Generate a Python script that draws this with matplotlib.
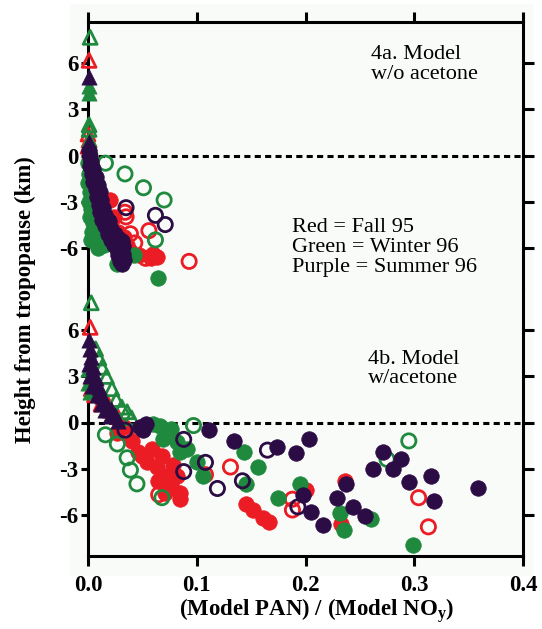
import matplotlib
matplotlib.use("Agg")
import matplotlib.pyplot as plt
from matplotlib.patches import Rectangle

# ---- data (x = model PAN / model NOy, y = height from tropopause, km) ----
# panel 4a: model without acetone
a_red_fill = [(0.033, -5.3), (0.036, -5.8), (0.039, -6.2), (0.060, -6.4), (0.063, -6.6),
              (0.058, -6.7), (0.047, -6.5), (0.020, -2.9), (0.024, -4.0), (0.028, -5.0)]
a_red_open = [(0.035, -4.0), (0.039, -5.1), (0.056, -4.9), (0.043, -5.7), (0.053, -6.7),
              (0.093, -6.9), (0.034, -3.7)]
a_red_tri = [(0.001, 6.2), (0.000, 1.4), (0.001, 1.0), (0.000, 0.6)]
a_green_fill = [(0.000, -0.5), (0.001, -1.2), (0.000, -1.8), (0.002, -2.4), (0.001, -3.0),
                (0.003, -3.5), (0.002, -4.0), (0.005, -4.4), (0.004, -5.0), (0.007, -5.3),
                (0.003, -5.5), (0.009, -6.0), (0.027, -7.1), (0.042, -6.5), (0.064, -8.0),
                (0.015, -5.8), (0.011, -4.8)]
a_green_tri_fill = [(0.001, 4.5), (0.001, 4.1), (0.001, 1.1), (0.002, 0.6)]
a_green_open = [(0.016, -0.5), (0.034, -1.2), (0.051, -2.1), (0.070, -2.9), (0.062, -5.5)]
a_green_tri_open = [(0.002, 7.7), (0.001, 2.0), (0.001, 1.7)]
a_purple_fill = [(0.001, 0.3), (0.002, -0.1), (0.003, -0.4), (0.002, -0.7), (0.005, -0.9),
                 (0.004, -1.2), (0.007, -1.4), (0.005, -1.7), (0.009, -1.9), (0.007, -2.2),
                 (0.011, -2.4), (0.008, -2.7), (0.012, -2.9), (0.010, -3.2), (0.014, -3.4),
                 (0.011, -3.7), (0.016, -3.9), (0.013, -4.2), (0.019, -4.3), (0.016, -4.6),
                 (0.021, -4.8), (0.018, -5.1), (0.025, -5.1), (0.021, -5.5), (0.028, -5.4),
                 (0.024, -5.8), (0.031, -5.6), (0.027, -6.1), (0.032, -5.9), (0.028, -6.5),
                 (0.032, -6.4), (0.029, -6.9), (0.033, -6.8), (0.031, -7.1)]
a_purple_tri = [(0.001, 5.1), (0.001, 0.9), (0.002, 0.5)]
a_purple_open = [(0.035, -3.4), (0.062, -3.9), (0.071, -4.5)]

# panel 4b: model with acetone
b_red_fill = [(0.027, -0.7), (0.046, -1.9), (0.059, -1.7), (0.068, -2.2), (0.054, -2.6),
              (0.063, -2.9), (0.072, -3.5), (0.082, -3.5), (0.076, -4.1), (0.071, -4.6),
              (0.085, -4.6), (0.085, -5.0), (0.050, -2.2), (0.040, -1.2), (0.078, -2.8),
              (0.145, -5.3), (0.152, -5.7), (0.161, -6.2), (0.166, -6.5), (0.200, -4.4),
              (0.236, -3.8), (0.233, -6.6), (0.064, -3.8), (0.033, -0.3)]
b_red_open = [(0.108, -3.4), (0.131, -2.9), (0.188, -5.0), (0.188, -5.7), (0.304, -4.9),
              (0.313, -6.8), (0.035, -0.7), (0.065, -4.7)]
b_red_tri_open = [(0.002, 6.2), (0.003, 2.2), (0.006, 1.8), (0.012, 1.2), (0.020, 0.8)]
b_red_tri_fill = [(0.018, 1.3), (0.028, 0.4)]
b_green_fill = [(0.066, -0.2), (0.076, -0.4), (0.069, -1.1), (0.082, -1.3), (0.091, -1.7),
                (0.085, -1.9), (0.100, -2.6), (0.106, -3.5), (0.143, -1.9), (0.156, -2.9),
                (0.145, -4.0), (0.175, -4.9), (0.195, -4.0), (0.232, -5.9), (0.235, -7.0),
                (0.260, -6.3), (0.299, -8.0), (0.060, -0.1)]
b_green_tri_fill = [(0.000, 3.5), (0.000, 2.6), (0.002, 2.0), (0.022, 0.5)]
b_green_open = [(0.027, -1.4), (0.036, -2.3), (0.039, -3.1), (0.045, -4.0), (0.068, -4.9),
                (0.097, -0.2), (0.275, -2.4), (0.295, -1.2), (0.016, -0.8)]
b_green_tri_open = [(0.003, 7.8), (0.007, 4.8), (0.010, 4.2), (0.013, 3.6), (0.017, 3.0),
                    (0.022, 2.2), (0.026, 1.5), (0.031, 1.0), (0.036, 0.7), (0.040, 0.3),
                    (0.004, 3.1)]
b_purple_fill = [(0.051, -0.5), (0.053, -0.1), (0.048, -0.3), (0.111, -0.5), (0.134, -1.2),
                 (0.174, -1.6), (0.191, -2.0), (0.203, -1.1), (0.198, -4.7), (0.205, -5.8),
                 (0.216, -6.7), (0.237, -4.0), (0.229, -4.9), (0.244, -5.5), (0.255, -6.1),
                 (0.262, -3.0), (0.271, -1.9), (0.280, -3.0), (0.288, -2.4), (0.295, -3.9),
                 (0.315, -3.5), (0.318, -5.1), (0.359, -4.3)]
b_purple_tri = [(0.001, 5.4), (0.002, 4.8), (0.003, 4.3), (0.001, 3.8), (0.005, 3.6),
                (0.002, 3.0), (0.007, 2.9), (0.004, 2.4), (0.010, 2.3), (0.008, 1.8),
                (0.013, 1.7), (0.012, 1.2), (0.017, 1.3), (0.016, 0.8), (0.021, 0.9),
                (0.020, 0.4), (0.025, 0.5), (0.028, 0.1)]
b_purple_open = [(0.034, -0.5), (0.088, -1.1), (0.088, -3.2), (0.165, -1.8), (0.108, -2.6),
                 (0.119, -4.3), (0.142, -3.8), (0.193, -5.5)]

xticks = [0.0, 0.1, 0.2, 0.3, 0.4]
xtick_labels = ["0.0", "0.1", "0.2", "0.3", "0.4"]
yticks = [-6, -3, 0, 3, 6]
ytick_labels = ["-6", "-3", "0", "3", "6"]

RED = "#ec1c24"
GREEN = "#1f8a3e"
PURPLE = "#2c0c44"

plt.rcParams["font.family"] = "Liberation Serif"
plt.rcParams["mathtext.fontset"] = "custom"
plt.rcParams["mathtext.rm"] = "Liberation Serif:bold"
plt.rcParams["mathtext.bf"] = "Liberation Serif:bold"


def pts(ax, data, color, marker, filled):
    xs = [p[0] for p in data]
    ys = [p[1] for p in data]
    if filled:
        ax.scatter(xs, ys, s=125 if marker == "o" else 120, marker=marker, c=color,
                   edgecolors=color, linewidths=0.5, clip_on=False, zorder=3)
    else:
        ax.scatter(xs, ys, s=105 if marker == "o" else 100, marker=marker,
                   facecolors="none", edgecolors=color, linewidths=2.0, clip_on=False,
                   zorder=3)


def style(ax, top):
    ax.set_xlim(0, 0.4)
    ax.set_ylim(-8.7, 8.7)
    ax.set_facecolor("none")
    for s in ax.spines.values():
        s.set_linewidth(2.2)
    ax.axhline(0, color="black", lw=2.2, ls=(0, (2.0, 1.4)), zorder=2)
    ax.set_yticks(yticks)
    ax.set_yticklabels(ytick_labels, fontweight="bold", fontsize=16.5)
    ax.tick_params(axis="y", which="major", left=True, right=True, direction="out",
                   width=2.2, pad=2, length=5)
    for t in ax.yaxis.get_major_ticks():
        t.tick2line.set_markersize(8)
    ax.set_xticks(xticks)
    if top:
        ax.spines["bottom"].set_visible(False)
        ax.tick_params(axis="x", top=True, bottom=False, labeltop=False, labelbottom=False,
                       direction="out", length=7.5, width=2.2)
    else:
        ax.spines["top"].set_visible(False)
        ax.set_xticklabels(xtick_labels, fontweight="bold", fontsize=16.5)
        ax.tick_params(axis="x", top=False, bottom=True, direction="out", length=7.5,
                       width=2.2, pad=6)


fig = plt.figure(figsize=(5.42, 6.29), dpi=100)
fig.patches.append(Rectangle((70 / 542, 1 - 575 / 629), 462 / 542, 571 / 629,
                             transform=fig.transFigure, color="#f8fbf8", zorder=-5))

ax1 = fig.add_axes([88 / 542, 1 - 289 / 629, 435 / 542, 267 / 629])
ax2 = fig.add_axes([88 / 542, 1 - 556 / 629, 435 / 542, 267 / 629])

# panel a
pts(ax1, a_red_fill, RED, "o", True)
pts(ax1, a_red_open, RED, "o", False)
pts(ax1, a_red_tri, RED, "^", False)
pts(ax1, a_green_fill, GREEN, "o", True)
pts(ax1, a_green_tri_fill, GREEN, "^", True)
pts(ax1, a_green_open, GREEN, "o", False)
pts(ax1, a_green_tri_open, GREEN, "^", False)
pts(ax1, a_purple_fill, PURPLE, "o", True)
pts(ax1, a_purple_tri, PURPLE, "^", True)
pts(ax1, a_purple_open, PURPLE, "o", False)

# panel b
pts(ax2, b_red_fill, RED, "o", True)
pts(ax2, b_red_tri_fill, RED, "^", True)
pts(ax2, b_red_open, RED, "o", False)
pts(ax2, b_red_tri_open, RED, "^", False)
pts(ax2, b_green_fill, GREEN, "o", True)
pts(ax2, b_green_tri_fill, GREEN, "^", True)
pts(ax2, b_green_open, GREEN, "o", False)
pts(ax2, b_green_tri_open, GREEN, "^", False)
pts(ax2, b_purple_fill, PURPLE, "o", True)
pts(ax2, b_purple_tri, PURPLE, "^", True)
pts(ax2, b_purple_open, PURPLE, "o", False)

style(ax1, True)
style(ax2, False)

ax1.text(0.650, 0.84, "4a. Model\nw/o acetone", transform=ax1.transAxes, fontsize=16,
         linespacing=1.05, va="center", ha="left")
ax1.text(0.469, 0.155, "Red = Fall 95\nGreen = Winter 96\nPurple = Summer 96",
         transform=ax1.transAxes, fontsize=16, linespacing=1.05, va="center", ha="left")
ax2.text(0.643, 0.70, "4b. Model\nw/acetone", transform=ax2.transAxes, fontsize=16,
         linespacing=1.05, va="center", ha="left")

fig.text(25 / 542, 1 - 300 / 629, "Height from tropopause (km)", rotation=90,
         fontsize=16.5, fontweight="bold", ha="center", va="center")
fig.text(317 / 542, 1 - 611 / 629, r"(Model PAN) / (Model NO$_{\mathrm{y}}$)",
         fontsize=16.5, fontweight="bold", ha="center", va="center")

fig.savefig("out.png", dpi=100)
